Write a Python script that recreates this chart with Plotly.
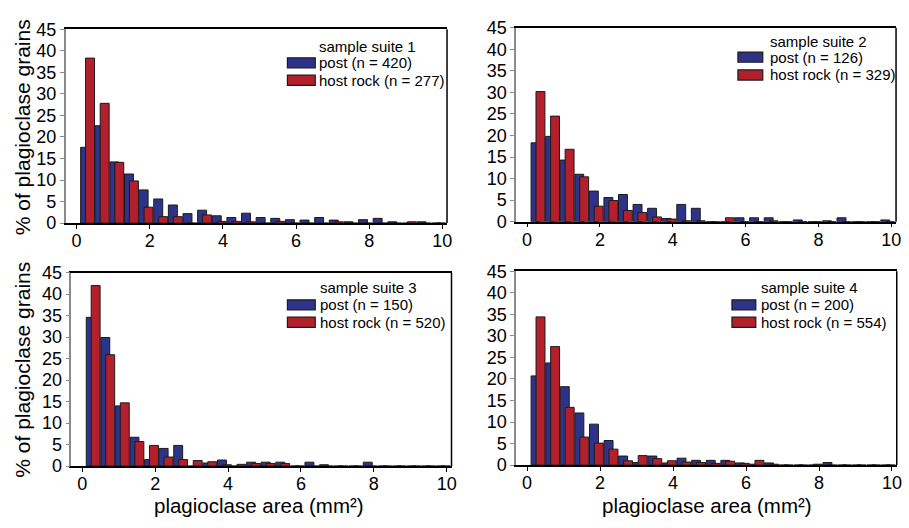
import plotly.graph_objects as go
from plotly.subplots import make_subplots

# bin centres (mm^2), 0.4 mm^2 bins
bin_centers = [round(0.3 + 0.4 * k, 2) for k in range(25)]

suite_names = ["sample suite 1", "sample suite 2", "sample suite 3", "sample suite 4"]
post_labels = ["post (n = 420)", "post (n = 126)", "post (n = 150)", "post (n = 200)"]
host_labels = ["host rock (n = 277)", "host rock (n = 329)", "host rock (n = 520)", "host rock (n = 554)"]

post1 = [17.6, 22.6, 14.2, 11.4, 7.7, 5.6, 4.2, 2.2, 3.0, 1.7, 1.3, 2.3, 1.3, 1.1, 0.8, 0.7, 1.3, 0.7, 0.3, 0.8, 1.1, 0.3, 0.0, 0.3, 0.0]
host1 = [38.3, 27.8, 14.1, 9.8, 3.7, 1.5, 1.5, 0.0, 1.9, 0.4, 0.4, 0.3, 0.0, 0.4, 0.0, 0.0, 0.0, 0.3, 0.0, 0.0, 0.0, 0.0, 0.3, 0.0, 0.0]

post2 = [18.3, 19.8, 14.3, 11.0, 7.1, 5.6, 6.3, 4.0, 3.1, 0.75, 4.0, 3.1, 0.0, 0.0, 0.9, 0.9, 0.9, 0.0, 0.4, 0.0, 0.2, 0.9, 0.0, 0.0, 0.4]
host2 = [30.2, 24.5, 16.8, 10.4, 3.6, 4.9, 2.6, 2.1, 1.1, 0.6, 0.2, 0.2, 0.0, 0.9, 0.0, 0.0, 0.2, 0.0, 0.0, 0.0, 0.0, 0.0, 0.0, 0.0, 0.0]

post3 = [34.6, 29.9, 14.0, 6.7, 1.5, 4.1, 4.8, 0.0, 0.7, 1.4, 0.0, 0.9, 0.9, 0.9, 0.0, 0.9, 0.3, 0.0, 0.0, 0.9, 0.0, 0.0, 0.0, 0.0, 0.0]
host3 = [42.0, 25.9, 14.7, 5.7, 4.8, 2.1, 1.5, 1.3, 1.0, 0.3, 0.4, 0.6, 0.6, 0.6, 0.0, 0.0, 0.0, 0.0, 0.0, 0.0, 0.0, 0.0, 0.0, 0.0, 0.0]

post4 = [20.7, 23.7, 18.2, 12.1, 9.5, 5.7, 2.1, 0.6, 2.1, 0.5, 1.6, 1.1, 1.1, 1.1, 0.5, 0.2, 0.5, 0.0, 0.0, 0.0, 0.6, 0.0, 0.0, 0.0, 0.0]
host4 = [34.4, 27.5, 13.4, 6.5, 5.1, 3.7, 1.0, 2.2, 1.5, 1.0, 0.7, 0.6, 0.4, 0.9, 0.4, 1.1, 0.2, 0.0, 0.0, 0.2, 0.0, 0.0, 0.0, 0.0, 0.0]

x_ticks = [0, 2, 4, 6, 8, 10]
y_ticks = [0, 5, 10, 15, 20, 25, 30, 35, 40, 45]

posts = [post1, post2, post3, post4]
hosts = [host1, host2, host3, host4]

BLUE = "#2c3389"
RED = "#b31f2b"
EDGE = "#1c1c1c"
FONT = "Liberation Sans, Arial, sans-serif"
W, H = 909, 528

fig = make_subplots(rows=2, cols=2)

cells = [(1, 1), (1, 2), (2, 1), (2, 2)]
for i, (r, c) in enumerate(cells):
    fig.add_trace(go.Bar(x=bin_centers, y=posts[i], name=post_labels[i], showlegend=False,
                         width=0.245, offset=-0.19,
                         marker=dict(color=BLUE, line=dict(color=EDGE, width=1))), row=r, col=c)
    fig.add_trace(go.Bar(x=bin_centers, y=hosts[i], name=host_labels[i], showlegend=False,
                         width=0.245, offset=-0.055,
                         marker=dict(color=RED, line=dict(color=EDGE, width=1))), row=r, col=c)

# pixel geometry of each plot area (left, right, top, bottom)
boxes = [(66, 449.5, 20, 221.5), (519, 901, 18.5, 220), (71.7, 454, 273, 474), (519, 901.7, 271.5, 473)]

layout = dict(
    width=W, height=H, margin=dict(l=0, r=0, t=0, b=0),
    paper_bgcolor="white", plot_bgcolor="white",
    barmode="overlay", font=dict(family=FONT, color="black"), showlegend=False,
)
for i, (l, r, t, b) in enumerate(boxes):
    sfx = "" if i == 0 else str(i + 1)
    layout["xaxis" + sfx] = dict(
        domain=[l / W, r / W], range=[-0.3, 10.13], tickvals=x_ticks,
        showline=True, linecolor="black", linewidth=1.5, mirror=True,
        ticks="outside", ticklen=4, tickcolor="black", showgrid=False, zeroline=False,
        ticklabelstandoff=-3,
        tickfont=dict(size=18, family=FONT, color="black"),
    )
    layout["yaxis" + sfx] = dict(
        domain=[1 - b / H, 1 - t / H], range=[0, 45], tickvals=y_ticks,
        showline=True, linecolor="#8a8a8a", linewidth=1.5, mirror=False,
        ticks="outside", ticklen=4, tickcolor="#8a8a8a", showgrid=False, zeroline=False,
        tickfont=dict(size=18, family=FONT, color="black"),
    )
fig.update_layout(**layout)

# right-hand frame line of each panel
for i in range(4):
    sfx = "" if i == 0 else str(i + 1)
    fig.add_shape(type="line", xref="x" + sfx + " domain", yref="y" + sfx + " domain",
                  x0=1, x1=1, y0=0, y1=1, line=dict(color="black", width=1.5))

# legends drawn per panel: (swatch left, swatch right, text left, title y, post y, host y) in pixels
legend_geo = [
    (289, 317, 319, 37.5, 55, 73),
    (742, 767, 772, 32.5, 49, 67.5),
    (289, 317, 320, 288.5, 306.5, 324.5),
    (736, 760, 763, 288.5, 306.5, 324.5),
]
for i, (sx0, sx1, tx, ty, py, hy) in enumerate(legend_geo):
    fig.add_annotation(text=suite_names[i], xref="paper", yref="paper", x=tx / W, y=1 - ty / H,
                       xanchor="left", yanchor="middle", showarrow=False,
                       font=dict(size=15, family=FONT, color="black"))
    for lab, yy, col in ((post_labels[i], py, BLUE), (host_labels[i], hy, RED)):
        fig.add_shape(type="rect", xref="paper", yref="paper",
                      x0=sx0 / W, x1=sx1 / W, y0=1 - (yy - 5.3) / H, y1=1 - (yy + 5.3) / H,
                      fillcolor=col, line=dict(color=EDGE, width=1.2))
        fig.add_annotation(text=lab, xref="paper", yref="paper", x=tx / W, y=1 - yy / H,
                           xanchor="left", yanchor="middle", showarrow=False,
                           font=dict(size=15, family=FONT, color="black"))

# axis titles
for yc in (122, 374):
    fig.add_annotation(text="% of plagioclase grains", xref="paper", yref="paper",
                       x=23 / W, y=1 - yc / H, xanchor="center", yanchor="middle",
                       showarrow=False, textangle=-90,
                       font=dict(size=21, family=FONT, color="black"))
for xc in (260, 711):
    fig.add_annotation(text="plagioclase area (mm²)", xref="paper", yref="paper",
                       x=xc / W, y=1 - 514.5 / H, xanchor="center", yanchor="middle",
                       showarrow=False, borderpad=0,
                       font=dict(size=20.5, family=FONT, color="black"))

fig.write_html("out.html")
